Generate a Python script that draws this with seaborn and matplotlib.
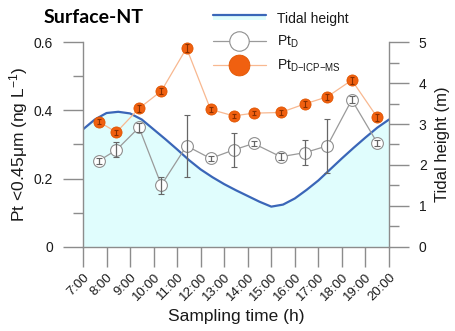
import matplotlib
matplotlib.use("Agg")
import matplotlib.pyplot as plt
import seaborn as sns
import pandas as pd
from matplotlib.lines import Line2D
from matplotlib.patches import Rectangle
from matplotlib.legend_handler import HandlerBase
from matplotlib.ticker import MultipleLocator

# ---- data ----
time_h = [7.67, 8.42, 9.38, 10.33, 11.40, 12.42, 13.40, 14.25, 15.40, 16.42, 17.38, 18.42, 19.50]
pt_d = [0.252, 0.284, 0.350, 0.181, 0.296, 0.259, 0.284, 0.303, 0.264, 0.276, 0.296, 0.431, 0.305]
pt_d_err = [0.008, 0.022, 0.012, 0.025, 0.091, 0.008, 0.051, 0.006, 0.010, 0.036, 0.079, 0.010, 0.008]
pt_icp = [0.367, 0.336, 0.406, 0.457, 0.583, 0.403, 0.384, 0.392, 0.394, 0.419, 0.440, 0.489, 0.380]
pt_icp_err = [0.007, 0.008, 0.010, 0.008, 0.012, 0.008, 0.006, 0.006, 0.006, 0.010, 0.008, 0.010, 0.010]

tide_h = [7.0, 7.5, 8.0, 8.5, 9.0, 9.5, 10.0, 10.5, 11.0, 11.5, 12.0, 12.5, 13.0, 13.5,
          14.0, 14.5, 15.0, 15.5, 16.0, 16.5, 17.0, 17.5, 18.0, 18.5, 19.0, 19.5, 20.0]
tide_m = [2.87, 3.11, 3.27, 3.30, 3.26, 3.11, 2.87, 2.63, 2.38, 2.12, 1.89, 1.70, 1.53, 1.38,
          1.24, 1.10, 0.98, 1.03, 1.18, 1.39, 1.62, 1.89, 2.16, 2.42, 2.67, 2.91, 3.11]

hour_ticks = list(range(7, 21))
hour_labels = [f"{h}:00" for h in hour_ticks]
left_ticks = [0, 0.2, 0.4, 0.6]
left_labels = ["0", "0.2", "0.4", "0.6"]
right_ticks = [0, 1, 2, 3, 4, 5]

# ---- style ----
sns.set_style("ticks")
plt.rcParams["font.family"] = ["Liberation Sans", "DejaVu Sans"]
plt.rcParams["mathtext.fontset"] = "custom"
plt.rcParams["mathtext.rm"] = "Liberation Sans"
plt.rcParams["mathtext.it"] = "Liberation Sans:italic"

axc = "#8c8c8c"
txt = "#1a1a1a"
blue = "#3a66b8"
cyan = "#e0fdfd"
orange = "#f06010"
orange_line = "#f8b890"
gray_line = "#9a9a9a"

fig = plt.figure(figsize=(4.56, 3.31), dpi=100)
ax = fig.add_axes([0.182, 0.2547, 0.671, 0.6175])
ax2 = ax.twinx()

df_pt = pd.DataFrame({"t": time_h, "d": pt_d, "icp": pt_icp})
df_tide = pd.DataFrame({"t": tide_h, "m": tide_m})

# tidal area (right axis)
ax2.fill_between(df_tide["t"], 0, df_tide["m"], color=cyan, lw=0, zorder=1)
sns.lineplot(data=df_tide, x="t", y="m", ax=ax2, color=blue, lw=1.6, zorder=2)

# Pt series (left axis), drawn above the tidal axis
ax.set_zorder(ax2.get_zorder() + 1)
ax.patch.set_visible(False)

sns.lineplot(data=df_pt, x="t", y="icp", ax=ax, color=orange_line, lw=0.9, zorder=3)
ax.errorbar(time_h, pt_icp, yerr=pt_icp_err, fmt="none", ecolor="#8a3000", elinewidth=0.8,
            capsize=1.5, capthick=0.8, zorder=6)
ax.plot(time_h, pt_icp, ls="none", marker="o", ms=8, mfc=orange, mec="#e05500", mew=0.6,
        zorder=5)

sns.lineplot(data=df_pt, x="t", y="d", ax=ax, color=gray_line, lw=0.9, zorder=3)
ax.plot(time_h, pt_d, ls="none", marker="o", ms=8.5, mfc="white", mec="#8f8f8f", mew=0.8, zorder=5)
ax.errorbar(time_h, pt_d, yerr=pt_d_err, fmt="none", ecolor="#666666", elinewidth=0.9,
            capsize=2, capthick=0.8, zorder=6)

# axes formatting
ax.set_xlim(7, 20)
ax.set_ylim(0, 0.6)
ax2.set_ylim(0, 5)
ax.set_xticks(hour_ticks)
ax.set_xticklabels(hour_labels, rotation=45, ha="right", rotation_mode="anchor")
ax.set_yticks(left_ticks)
ax.set_yticklabels(left_labels)
ax.yaxis.set_minor_locator(MultipleLocator(0.1))
ax2.set_yticks(right_ticks)
ax2.yaxis.set_minor_locator(MultipleLocator(0.5))

for a in (ax, ax2):
    for s in a.spines.values():
        s.set_color(axc)
        s.set_linewidth(1.0)
    a.spines["top"].set_visible(False)
    a.tick_params(which="major", length=14.5, width=1.0, color=axc, labelcolor=txt, labelsize=10)
    a.tick_params(which="minor", length=7, width=1.0, color=axc)
ax.spines["right"].set_visible(False)
ax2.spines["left"].set_visible(False)
ax2.spines["bottom"].set_visible(False)
ax.tick_params(axis="y", pad=7)
ax.tick_params(axis="x", pad=3, labelsize=9.5)
ax2.tick_params(axis="y", pad=7)

ax.set_xlabel("Sampling time (h)", fontsize=12.5, color=txt, labelpad=4)
ax.set_ylabel("Pt <0.45\u03bcm (ng L$^{-1}$)", fontsize=12.5, color=txt, labelpad=3)
ax2.set_ylabel("Tidal height (m)", fontsize=12, color=txt, labelpad=6)
ax2.set_xlabel("")

fig.text(0.095, 0.947, "Surface-NT", fontsize=14, fontweight="bold", family="Lato",
         color="black", va="center", ha="left")


# legend
class TideHandle:
    pass


class HandlerTide(HandlerBase):
    def create_artists(self, legend, orig_handle, xdescent, ydescent, width, height, fontsize, trans):
        top = height * 0.85 - ydescent
        rect = Rectangle((-xdescent, top - height * 0.6), width, height * 0.6,
                         facecolor=cyan, edgecolor="none", transform=trans)
        line = Line2D([-xdescent, -xdescent + width], [top, top], color=blue, lw=1.6, transform=trans)
        return [rect, line]


h_d = Line2D([], [], color=gray_line, lw=0.9, marker="o", ms=14, mfc="white", mec="#8f8f8f", mew=0.8)
h_icp = Line2D([], [], color=orange_line, lw=0.9, marker="o", ms=15, mfc=orange, mec="#e05500", mew=0.6)
leg = fig.legend([TideHandle(), h_d, h_icp],
                 ["Tidal height", "Pt$_{\\mathregular{D}}$", "Pt$_{\\mathregular{D{-}ICP{-}MS}}$"],
                 handler_map={TideHandle: HandlerTide()},
                 loc="upper left", bbox_to_anchor=(0.455, 0.981), borderaxespad=0, frameon=False,
                 fontsize=10, handlelength=3.8, labelspacing=0.55, handletextpad=0.8)
for t in leg.get_texts():
    t.set_color(txt)

fig.savefig("out.png", dpi=100)
